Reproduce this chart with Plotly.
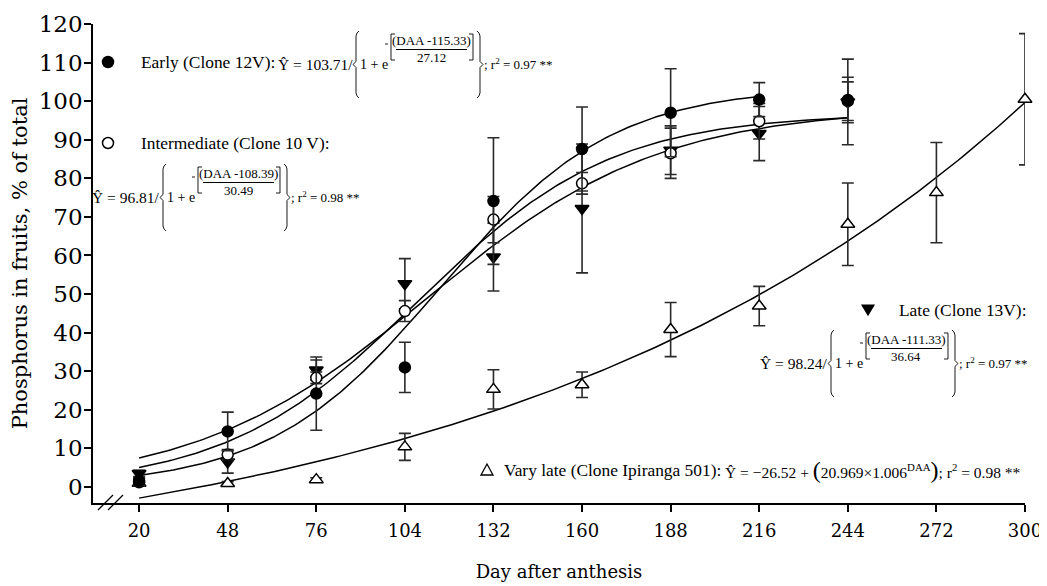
import numpy as np
import plotly.graph_objects as go

# ---------------- data ----------------
days = [20, 48, 76, 104, 132, 160, 188, 216, 244]
days_vl = [20, 48, 76, 104, 132, 160, 188, 216, 244, 272, 300]
x_ticks = [20, 48, 76, 104, 132, 160, 188, 216, 244, 272, 300]
y_ticks = [0, 10, 20, 30, 40, 50, 60, 70, 80, 90, 100, 110, 120]

early = [1.5, 14.4, 24.2, 31.0, 74.1, 87.6, 97.0, 100.4, 100.3]
early_err = [1.0, 5.0, 9.5, 6.5, 16.4, 10.9, 11.4, 4.4, 5.9]

inter = [1.2, 8.4, 28.3, 45.6, 69.3, 78.7, 86.5, 94.8, 100.0]
inter_err = [1.0, 1.3, 1.5, 2.7, 6.0, 2.8, 6.5, 4.6, 5.0]

late = [3.5, 6.5, 30.3, 52.7, 59.6, 72.2, 87.3, 91.6, 99.8]
late_err = [0.8, 2.9, 2.6, 6.5, 8.8, 16.7, 6.3, 7.0, 11.1]

vlate = [1.0, 0.9, 1.9, 10.4, 25.3, 26.5, 40.8, 46.9, 68.1, 76.3, 100.5]
vlate_err = [0.8, 0.5, 0.5, 3.5, 5.1, 3.3, 7.0, 5.1, 10.7, 13.0, 17.0]

# fitted-model parameters printed on the chart
early_fit = [103.71, 115.33, 27.12]
inter_fit = [96.81, 108.39, 30.49]
late_fit = [98.24, 111.33, 36.64]
vlate_fit = [-26.52, 20.969, 1.006]
fit_end = {"early": 216, "inter": 244, "late": 244, "vlate": 300}

# ---------------- layout geometry ----------------
# the page body adds an 8 px offset, so the figure is drawn 8 px smaller
OFF = 8
FIG_W, FIG_H = 1047 - OFF, 586 - OFF
PL, PR, PT, PB = 93, 1025, 24, 503          # plot box in screen pixels
ML, MT = PL - OFF, PT - OFF
MR, MB = FIG_W - (PR - OFF), FIG_H - (PB - OFF)
PW, PH = PR - PL, PB - PT


def px(x):
    return (x - PL) / PW


def py(y):
    return (PB - y) / PH


def logistic(p, d):
    a, b, c = p
    return a / (1 + np.exp(-(d - b) / c))


def expo(p, d):
    a, b, c = p
    return a + b * c ** d


fig = go.Figure()

curves = [
    (np.linspace(20, fit_end["early"], 200), lambda d: logistic(early_fit, d)),
    (np.linspace(20, fit_end["inter"], 200), lambda d: logistic(inter_fit, d)),
    (np.linspace(20, fit_end["late"], 200), lambda d: logistic(late_fit, d)),
    (np.linspace(20, fit_end["vlate"], 200), lambda d: expo(vlate_fit, d)),
]
for xs, fn in curves:
    fig.add_trace(go.Scatter(x=xs, y=fn(xs), mode="lines",
                             line=dict(color="black", width=1.5),
                             hoverinfo="skip", showlegend=False))

ebar = dict(type="data", visible=True, thickness=1.6, width=6, color="#2a2a2a")
series = [
    (days_vl, vlate, vlate_err, "triangle-up", "white", 12),
    (days, late, late_err, "triangle-down", "black", 12),
    (days, inter, inter_err, "circle", "white", 11),
    (days, early, early_err, "circle", "black", 11),
]
for xs, ys, es, sym, fill, sz in series:
    fig.add_trace(go.Scatter(
        x=xs, y=ys, mode="markers", cliponaxis=False,
        error_y=dict(ebar, array=es),
        marker=dict(symbol=sym, size=sz, color=fill,
                    line=dict(color="black", width=1.5)),
        showlegend=False))

annotations = []
shapes = []
SERIF = "Liberation Serif"


def txt(x, y, s, size, anchor="left"):
    annotations.append(dict(x=px(x), y=py(y), xref="paper", yref="paper",
                            text=s, showarrow=False, xanchor=anchor,
                            yanchor="middle", borderpad=0,
                            font=dict(family=SERIF, size=size, color="black")))


def path(points, close=False, fill=None, width=1.0):
    d = "M " + " L ".join(f"{px(a):.5f},{py(b):.5f}" for a, b in points)
    if close:
        d += " Z"
    shapes.append(dict(type="path", xref="paper", yref="paper", path=d,
                       line=dict(color="black", width=width),
                       fillcolor=fill if fill else "rgba(0,0,0,0)"))


def seg(x0, y0, x1, y1, width=1.0):
    shapes.append(dict(type="line", xref="paper", yref="paper",
                       x0=px(x0), x1=px(x1), y0=py(y0), y1=py(y1),
                       line=dict(color="black", width=width)))


def brace(x, yt, yb, side):
    ym = (yt + yb) / 2
    s = 1 if side == "left" else -1
    pts = [(x + 3 * s, yt), (x + 1 * s, yt + 2), (x, yt + 5), (x, ym - 3),
           (x - 3 * s, ym), (x, ym + 3), (x, yb - 5), (x + 1 * s, yb - 2),
           (x + 3 * s, yb)]
    path(pts, width=0.9)


def bracket(x, yt, yb, side):
    s = 1 if side == "left" else -1
    path([(x + 4 * s, yt), (x, yt), (x, yb), (x + 4 * s, yb)], width=0.9)


def equation(bx, my, a, num, den, r2):
    txt(bx - 1, my, f"Ŷ = {a}/", 15.5, "right")
    brace(bx + 1, my - 33, my + 34, "left")
    txt(bx + 4, my, "1 + e", 14, "left")
    seg(bx + 30, my - 20, bx + 33, my - 20, 0.9)          # minus sign
    bracket(bx + 36, my - 30, my - 4, "left")
    txt(bx + 76, my - 23.5, num, 13, "center")
    seg(bx + 41, my - 14.5, bx + 112, my - 14.5, 1.0)     # fraction bar
    txt(bx + 76, my - 6.5, den, 13, "center")
    bracket(bx + 118, my - 30, my - 4, "right")
    brace(bx + 125, my - 33, my + 34, "right")
    txt(bx + 128, my, f"; r<sup>2</sup> = {r2} **", 13, "left")


def circle_key(x, y, fill):
    r = 5.5
    shapes.append(dict(type="circle", xref="paper", yref="paper",
                       x0=px(x - r), x1=px(x + r), y0=py(y + r), y1=py(y - r),
                       fillcolor=fill, line=dict(color="black", width=1.5)))


LBL = 17.4

circle_key(108, 62, "black")
txt(140, 62, "Early (Clone 12V):", LBL)
equation(355, 64, "103.71", "(DAA -115.33)", "27.12", "0.97")

circle_key(108, 143, "white")
txt(140, 143, "Intermediate (Clone 10 V):", LBL)
equation(162, 197, "96.81", "(DAA -108.39)", "30.49", "0.98")

path([(862, 305), (874, 305), (868, 315)], close=True, fill="black", width=1.2)
txt(898, 310, "Late (Clone 13V):", LBL)
equation(830, 363, "98.24", "(DAA -111.33)", "36.64", "0.97")

path([(481, 475), (493, 475), (487, 464)], close=True, fill="white", width=1.3)
txt(503, 470, "Vary late (Clone Ipiranga 501):", LBL)
txt(724, 470,
    "Ŷ = −26.52 + <span style='font-size:24px'>(</span>20.969×1.006"
    "<sup>DAA</sup><span style='font-size:24px'>)</span>; r<sup>2</sup> = 0.98 **",
    15.5)

# axis break marks
seg(98, 510, 113, 495, 1.3)
seg(108, 510, 123, 495, 1.3)

axis_common = dict(showgrid=False, zeroline=False, showline=True,
                   linecolor="black", linewidth=1.5, ticks="outside",
                   ticklen=7, tickwidth=1.5, tickcolor="black",
                   automargin=False)

fig.update_layout(
    width=FIG_W, height=FIG_H,
    margin=dict(l=ML, r=MR, t=MT, b=MB, autoexpand=False),
    plot_bgcolor="white", paper_bgcolor="white",
    showlegend=False,
    xaxis=dict(axis_common, range=[5.43, 300], tickmode="array",
               tickvals=x_ticks, ticktext=[str(v) for v in x_ticks],
               ticklabelstandoff=4,
               tickfont=dict(family="DejaVu Serif", size=18, color="black"),
               title=dict(text="Day after anthesis", standoff=25,
                          font=dict(family="DejaVu Serif", size=18, color="black"))),
    yaxis=dict(axis_common, range=[-4.15, 120], tickmode="array",
               tickvals=y_ticks, ticktext=[str(v) for v in y_ticks],
               ticklabelstandoff=-3,
               tickfont=dict(family="DejaVu Serif", size=23, color="black"),
               title=dict(text="Phosphorus in fruits, % of total", standoff=8,
                          font=dict(family="DejaVu Serif", size=21, color="black"))),
    annotations=annotations,
    shapes=shapes,
)

fig.write_html("out.html")
